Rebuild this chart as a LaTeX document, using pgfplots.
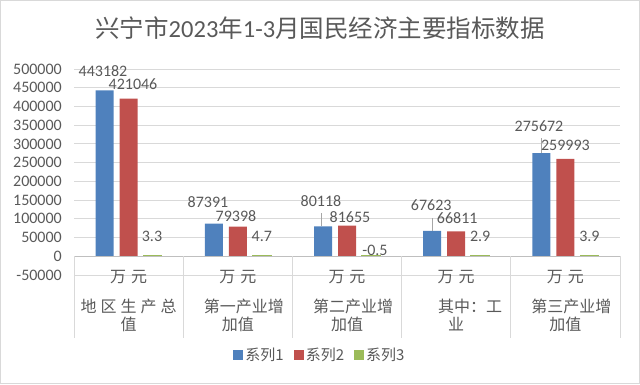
\documentclass[border=0pt]{standalone}
\usepackage{fontspec}
\setmainfont{Carlito}
\newfontfamily\cjk{Noto Sans CJK SC}
\usepackage{pgfplots}
\usepackage{pgfplotstable}
\pgfplotsset{compat=1.18}
\definecolor{tg}{HTML}{595959}
\definecolor{gridc}{HTML}{D9D9D9}
\definecolor{axc}{HTML}{BFBFBF}
\definecolor{leadc}{HTML}{A6A6A6}
\definecolor{s1}{HTML}{4F81BD}
\definecolor{s2}{HTML}{C0504D}
\definecolor{s3}{HTML}{9BBB59}

\pgfplotstableread{
x y dx dy
0 443182 -1.6 19.3
1 87391 -5.8 21.6
2 80118 -2 25
3 67623 -1 26
4 275672 -2.4 27
}\sone
\pgfplotstableread{
x y dx dy
0 421046 4.4 14.6
1 79398 -1.8 10.6
2 81655 3 8.7
3 66811 1 13
4 259993 0 14
}\stwo
\pgfplotstableread{
x y dx dy
0 3.3 -0.6 20
1 4.7 0 20
2 -0.5 4 5.5
3 2.9 0 20
4 3.9 0 20
}\sthree

\begin{document}
\begin{tikzpicture}
\path[use as bounding box] (0pt,0pt) rectangle (640pt,384pt);
\draw[gridc, line width=1pt] (0.5pt,0.5pt) rectangle (639.5pt,383.5pt);
\node[text=tg, font=\fontsize{24.5}{26}\selectfont, inner sep=0pt] at (320pt,356pt)
  {{\cjk 兴宁市}2023{\cjk 年}1-3{\cjk 月国民经济主要指标数据}};
\begin{axis}[
  at={(74pt,109pt)}, anchor=south west,
  scale only axis, width=546pt, height=206pt,
  ybar=6pt, bar width=18pt,
  xmin=-0.5, xmax=4.5, ymin=-50000, ymax=500000,
  enlarge x limits=false,
  xtick={0,1,2,3,4},
  xticklabels={
    {万\hspace{5pt}元\\[12pt]地\hspace{4pt}区\hspace{4pt}生\hspace{4pt}产\hspace{4pt}总\\值},
    {万\hspace{5pt}元\\[12pt]\hspace*{12pt}第一产业增\\加值},
    {万\hspace{5pt}元\\[12pt]\hspace*{12pt}第二产业增\\加值},
    {万\hspace{5pt}元\\[12pt]\hspace*{28pt}其中：工\\业},
    {万\hspace{5pt}元\\[12pt]\hspace*{12pt}第三产业增\\加值}},
  xticklabel style={anchor=north, inner sep=0pt, align=center, yshift=4.5pt,
    font=\cjk\fontsize{16}{18}\selectfont, text=tg},
  ytick={-50000,0,...,500000},
  yticklabel={\pgfmathprintnumber[fixed,set thousands separator={},assume math mode=true]{\tick}},
  yticklabel style={anchor=east, inner sep=0pt, xshift=-12pt,
    font=\fontsize{16}{16}\selectfont, text=tg},
  scaled y ticks=false,
  ymajorgrids, grid style={gridc, line width=0.9pt},
  axis line style={draw=none},
  major tick length=0pt,
  clip=false,
  nodes near coords={\pgfmathprintnumber[fixed,precision=1,set thousands separator={},assume math mode=true]{\pgfplotspointmeta}},
  every node near coord/.append style={font=\fontsize{16}{16}\selectfont, text=tg, inner sep=0pt},
  legend image code/.code={\draw[#1, draw=none] (0pt,-5pt) rectangle (10pt,5pt);},
  legend style={at={(0.4505,-0.388)}, anchor=center, draw=none, fill=none,
    legend columns=3, font=\cjk\fontsize{15}{15}\selectfont, text=tg,
    nodes={inner sep=2pt},
    /tikz/every even column/.append style={column sep=8pt}},
]
\addplot[fill=s1, draw=none,
  visualization depends on={\thisrow{dx} \as \mydx},
  visualization depends on={\thisrow{dy} \as \mydy},
  every node near coord/.append style={anchor=center, xshift=\mydx pt, yshift=\mydy pt}]
  table[x=x,y=y] {\sone};
\addplot[fill=s2, draw=none,
  visualization depends on={\thisrow{dx} \as \mydx},
  visualization depends on={\thisrow{dy} \as \mydy},
  every node near coord/.append style={anchor=center, xshift=\mydx pt, yshift=\mydy pt}]
  table[x=x,y=y] {\stwo};
\addplot[fill=s3, draw=s3, line width=1.6pt,
  visualization depends on={\thisrow{dx} \as \mydx},
  visualization depends on={\thisrow{dy} \as \mydy},
  every node near coord/.append style={anchor=center, xshift=\mydx pt, yshift=\mydy pt}]
  table[x=x,y=y] {\sthree};
\legend{系列1,系列2,系列3}
\draw[axc, line width=1pt] (axis cs:-0.5,0) -- (axis cs:4.5,0);
\pgfplotsinvokeforeach{-0.5,0.5,1.5,2.5,3.5,4.5}{
  \draw[gridc, line width=1pt] (axis cs:#1,0) -- ++(0pt,-82pt);
}
\draw[leadc, line width=0.8pt] ([xshift=-26pt]axis cs:2,80118) -- ++(0pt,13pt);
\draw[leadc, line width=0.8pt] ([xshift=-24pt]axis cs:3,67623) -- ++(0pt,13pt);
\draw[leadc, line width=0.8pt] ([xshift=-24.5pt]axis cs:4,275672) -- ++(0pt,15pt);
\end{axis}
\end{tikzpicture}
\end{document}
